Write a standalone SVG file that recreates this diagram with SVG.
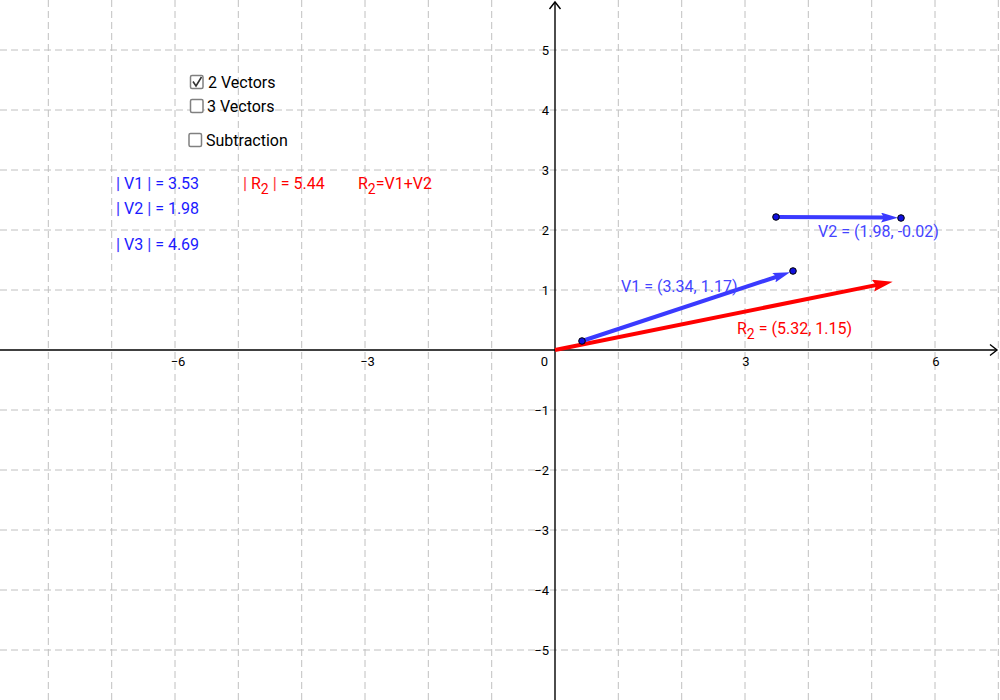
<svg xmlns="http://www.w3.org/2000/svg" width="1000" height="700" viewBox="0 0 1000 700">
<defs>
<style>
.grid line{stroke:#c0c0c0;stroke-width:1;stroke-dasharray:7,4;fill:none}
.axis{stroke:#000;stroke-width:1.4;fill:none}
.tick{font-family:Roboto,"Liberation Sans",sans-serif;font-size:13px;fill:#000}
.ui{font-family:Roboto,"Liberation Sans",sans-serif;font-size:16px;fill:#000}
.box{fill:#fff;stroke:#808080;stroke-width:1.5}
.txt{font-family:Roboto,"Liberation Sans",sans-serif;font-size:16px}
.blue{fill:#1a1aff}
.bbar{fill:#4444ff;font-weight:bold}
.red{fill:#ff0000}
.rbar{fill:#ff4444;font-weight:bold}
.lbl{fill:#4444ff}
.vb{stroke:#3a3aff;stroke-width:4;fill:none}
.vr{stroke:#ff0000;stroke-width:4;fill:none}
.pt{fill:#1010e0;stroke:#000;stroke-width:1}
</style>
<marker id="ahB" viewBox="0 0 17 10" markerUnits="userSpaceOnUse" markerWidth="17" markerHeight="10" refX="7" refY="5" orient="auto">
<path d="M0,0 L17,5 L0,10 L3,5 Z" fill="#3a3aff"/>
</marker>
<marker id="ahR" viewBox="0 0 20 12" markerUnits="userSpaceOnUse" markerWidth="20" markerHeight="12" refX="8" refY="6" orient="auto">
<path d="M0,0 L20,6 L0,12 L3,6 Z" fill="#ff0000"/>
</marker>
</defs>
<rect width="1000" height="700" fill="#fff"/>
<g id="grid" class="grid">
<line x1="48.3" y1="0" x2="48.3" y2="700"/>
<line x1="111.7" y1="0" x2="111.7" y2="700"/>
<line x1="175" y1="0" x2="175" y2="700"/>
<line x1="238.3" y1="0" x2="238.3" y2="700"/>
<line x1="301.7" y1="0" x2="301.7" y2="700"/>
<line x1="365" y1="0" x2="365" y2="700"/>
<line x1="428.3" y1="0" x2="428.3" y2="700"/>
<line x1="491.7" y1="0" x2="491.7" y2="700"/>
<line x1="618.3" y1="0" x2="618.3" y2="700"/>
<line x1="681.7" y1="0" x2="681.7" y2="700"/>
<line x1="745" y1="0" x2="745" y2="700"/>
<line x1="808.3" y1="0" x2="808.3" y2="700"/>
<line x1="871.7" y1="0" x2="871.7" y2="700"/>
<line x1="935" y1="0" x2="935" y2="700"/>
<line x1="998.3" y1="0" x2="998.3" y2="700"/>
<line x1="0" y1="50" x2="1000" y2="50"/>
<line x1="0" y1="110" x2="1000" y2="110"/>
<line x1="0" y1="170" x2="1000" y2="170"/>
<line x1="0" y1="230" x2="1000" y2="230"/>
<line x1="0" y1="290" x2="1000" y2="290"/>
<line x1="0" y1="410" x2="1000" y2="410"/>
<line x1="0" y1="470" x2="1000" y2="470"/>
<line x1="0" y1="530" x2="1000" y2="530"/>
<line x1="0" y1="590" x2="1000" y2="590"/>
<line x1="0" y1="650" x2="1000" y2="650"/>
</g>
<g id="axes">
<line class="axis" x1="0" y1="350" x2="997" y2="350"/>
<polyline class="axis" points="990,344.5 997,350 990,355.5"/>
<line class="axis" x1="555" y1="700" x2="555" y2="2"/>
<polyline class="axis" points="549.5,9 555,2 560.5,9"/>
</g>
<g id="ticklabels" class="tick">
<text x="178" y="366" text-anchor="middle">−6</text>
<text x="367.5" y="366" text-anchor="middle">−3</text>
<text x="746" y="366" text-anchor="middle">3</text>
<text x="936" y="366" text-anchor="middle">6</text>
<text x="548" y="366" text-anchor="end">0</text>
<text x="549" y="55" text-anchor="end">5</text>
<text x="549" y="115" text-anchor="end">4</text>
<text x="549" y="175" text-anchor="end">3</text>
<text x="549" y="235" text-anchor="end">2</text>
<text x="549" y="295" text-anchor="end">1</text>
<text x="549" y="415" text-anchor="end">−1</text>
<text x="549" y="475" text-anchor="end">−2</text>
<text x="549" y="535" text-anchor="end">−3</text>
<text x="549" y="595" text-anchor="end">−4</text>
<text x="549" y="655" text-anchor="end">−5</text>
</g>
<g id="checkbox-2vectors">
<rect class="box" x="190.5" y="75.5" width="12.5" height="13" rx="1.5"/>
<path d="M193,81.5 L196,86 L201.5,77" fill="none" stroke="#333" stroke-width="1.6"/>
<text class="ui" x="208" y="88">2 Vectors</text>
</g>
<g id="checkbox-3vectors">
<rect class="box" x="190.5" y="99.5" width="12.5" height="13" rx="1.5"/>
<text class="ui" x="207" y="112">3 Vectors</text>
</g>
<g id="checkbox-subtraction">
<rect class="box" x="189" y="133.5" width="12.5" height="13" rx="1.5"/>
<text class="ui" x="206" y="146">Subtraction</text>
</g>
<g id="magnitudes" class="txt">
<text x="116" y="189"><tspan class="bbar">|</tspan><tspan class="blue"> V1 </tspan><tspan class="bbar">|</tspan><tspan class="blue"> = 3.53</tspan></text>
<text x="116" y="214"><tspan class="bbar">|</tspan><tspan class="blue"> V2 </tspan><tspan class="bbar">|</tspan><tspan class="blue"> = 1.98</tspan></text>
<text x="116" y="250"><tspan class="bbar">|</tspan><tspan class="blue"> V3 </tspan><tspan class="bbar">|</tspan><tspan class="blue"> = 4.69</tspan></text>
<text x="243" y="189"><tspan class="rbar">|</tspan><tspan class="red"> R</tspan><tspan class="red" font-size="14" dy="5">2</tspan><tspan class="red" dy="-5"> </tspan><tspan class="rbar">|</tspan><tspan class="red"> = 5.44</tspan></text>
<text x="358" y="189" class="red">R<tspan font-size="14" dy="5">2</tspan><tspan dy="-5">=V1+V2</tspan></text>
</g>
<g id="connectors">
<line id="R2" class="vr" x1="555" y1="350" x2="880.9" y2="284.1" marker-end="url(#ahR)"/>
<line id="V1" class="vb" x1="582" y1="341" x2="780.5" y2="275.5" marker-end="url(#ahB)"/>
<line id="V2" class="vb" x1="776" y1="217" x2="888" y2="217.6" marker-end="url(#ahB)"/>
</g>
<g id="points">
<circle class="pt" cx="582" cy="341" r="3.3"/>
<circle class="pt" cx="793" cy="271" r="3.3"/>
<circle class="pt" cx="776" cy="217" r="3.3"/>
<circle class="pt" cx="901" cy="218" r="3.3"/>
</g>
<g id="vector-labels" class="txt">
<text class="lbl" x="621" y="292">V1 = (3.34, 1.17)</text>
<text class="lbl" x="818" y="237">V2 = (1.98, -0.02)</text>
<text class="red" x="737" y="334">R<tspan font-size="14" dy="5">2</tspan><tspan dy="-5"> = (5.32, 1.15)</tspan></text>
</g>
</svg>
